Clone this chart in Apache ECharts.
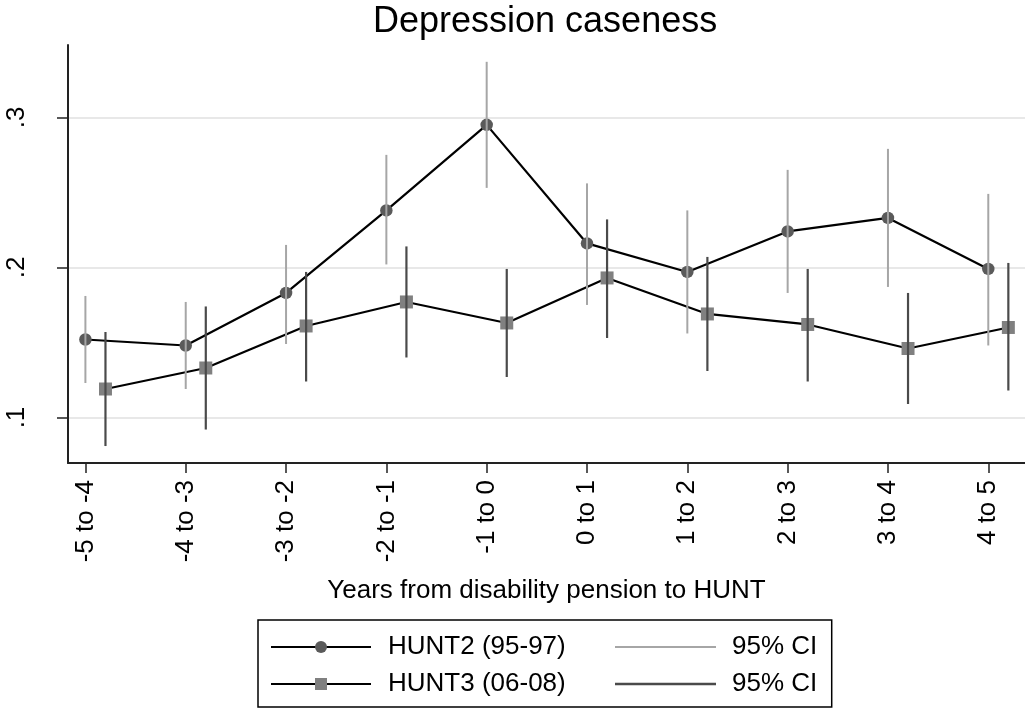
<!DOCTYPE html>
<html>
<head>
<meta charset="utf-8">
<script src="https://cdn.jsdelivr.net/npm/echarts@6/dist/echarts.min.js"></script>
<style>
html,body{margin:0;padding:0;background:#fff;}
#chart{width:1025px;height:709px;}
</style>
</head>
<body>
<div id="chart"></div>
<script>
const categories = ['-5 to -4','-4 to -3','-3 to -2','-2 to -1','-1 to 0','0 to 1','1 to 2','2 to 3','3 to 4','4 to 5'];
const hunt2   = [0.152,0.148,0.183,0.238,0.295,0.216,0.197,0.224,0.233,0.199];
const hunt2Lo = [0.123,0.119,0.149,0.202,0.253,0.175,0.156,0.183,0.187,0.148];
const hunt2Hi = [0.181,0.177,0.215,0.275,0.337,0.256,0.238,0.265,0.279,0.249];
const hunt3   = [0.119,0.133,0.161,0.177,0.163,0.193,0.169,0.162,0.146,0.160];
const hunt3Lo = [0.081,0.092,0.124,0.140,0.127,0.153,0.131,0.124,0.109,0.118];
const hunt3Hi = [0.157,0.174,0.197,0.214,0.199,0.232,0.207,0.199,0.183,0.203];
const yTicks = [0.1,0.2,0.3];
const yTickLabels = ['.1','.2','.3'];
const seriesNames = ['HUNT2 (95-97)','HUNT3 (06-08)'];
const ciLabel = '95% CI';
const titleText = 'Depression caseness';
const xTitle = 'Years from disability pension to HUNT';
const hunt3Offset = 0.2;

const FONT = '"Liberation Sans", Arial, Helvetica, sans-serif';
const xIdx = categories.map((c, i) => i);

function ciRender(width) {
  return function (params, api) {
    const x = api.value(0), lo = api.value(1), hi = api.value(2);
    const p1 = api.coord([x, lo]), p2 = api.coord([x, hi]);
    return {
      type: 'line',
      shape: { x1: p1[0], y1: p1[1], x2: p2[0], y2: p2[1] },
      style: { stroke: api.visual('color'), lineWidth: width }
    };
  };
}

const chart = echarts.init(document.getElementById('chart'), null, { renderer: 'canvas' });
chart.setOption({
  animation: false,
  backgroundColor: '#fff',
  title: {
    text: titleText, left: 373, top: 4, padding: 0,
    textStyle: { fontSize: 36, fontWeight: 'normal', color: '#000', fontFamily: FONT }
  },
  grid: { left: 68, right: 0, top: 45, bottom: 246, containLabel: false },
  xAxis: {
    type: 'value', min: -0.1735, max: 9.366,
    axisLine: { onZero: false, lineStyle: { color: '#222', width: 2 } },
    axisTick: { show: true, length: 10, customValues: xIdx, lineStyle: { color: '#222', width: 1.5 } },
    axisLabel: {
      customValues: xIdx, rotate: 90, margin: 17,
      formatter: v => categories[Math.round(v)],
      fontSize: 26, color: '#000', fontFamily: FONT
    },
    splitLine: { show: false },
    name: xTitle, nameLocation: 'middle', nameGap: 115,
    nameTextStyle: { fontSize: 26, color: '#000', fontFamily: FONT }
  },
  yAxis: {
    type: 'value', min: 0.0697, max: 0.3482,
    axisLine: { show: true, onZero: false, lineStyle: { color: '#222', width: 2 } },
    axisTick: { show: true, length: 11, customValues: yTicks, lineStyle: { color: '#222', width: 1.5 } },
    axisLabel: {
      customValues: yTicks, rotate: 90, margin: 38,
      formatter: v => { let k = 0; yTicks.forEach((t, i) => { if (Math.abs(t - v) < Math.abs(yTicks[k] - v)) k = i; }); return yTickLabels[k]; },
      fontSize: 26, color: '#000', fontFamily: FONT
    },
    splitLine: { show: true, lineStyle: { color: '#e8e8e8', width: 2 } }
  },
  legend: [
    {
      data: [{ name: seriesNames[0] }, { name: seriesNames[1] }],
      orient: 'vertical', left: 258, top: 620,
      padding: [14, 266, 10, 12],
      itemWidth: 100, itemHeight: 15, itemGap: 11,
      borderColor: '#000', borderWidth: 1.5, backgroundColor: '#fff',
      selectedMode: false,
      textStyle: { fontSize: 26, lineHeight: 26, color: '#000', fontFamily: FONT, padding: [0, 0, 0, 12] }
    },
    {
      data: [
        { name: 'CI2', icon: 'path://M0,0H100V2H0Z', itemStyle: { color: '#a6a6a6', borderWidth: 0 } },
        { name: 'CI3', icon: 'path://M0,0H100V2.5H0Z', itemStyle: { color: '#4a4a4a', borderWidth: 0 } }
      ],
      orient: 'vertical', left: 615, top: 634, padding: 0,
      itemWidth: 101, itemHeight: 15, itemGap: 11,
      selectedMode: false,
      formatter: () => ciLabel,
      textStyle: { fontSize: 26, lineHeight: 26, color: '#000', fontFamily: FONT, padding: [0, 0, 0, 11] }
    }
  ],
  series: [
    {
      name: seriesNames[0], type: 'line', z: 2,
      data: hunt2.map((v, i) => [i, v]),
      symbol: 'circle', symbolSize: 12.5,
      itemStyle: { color: '#5a5a5a' },
      lineStyle: { color: '#000', width: 2.2 }
    },
    {
      name: seriesNames[1], type: 'line', z: 2,
      data: hunt3.map((v, i) => [i + hunt3Offset, v]),
      symbol: 'rect', symbolSize: 13,
      itemStyle: { color: '#808080' },
      lineStyle: { color: '#000', width: 2.2 }
    },
    {
      name: 'CI2', type: 'custom', z: 3,
      itemStyle: { color: '#a6a6a6' },
      renderItem: ciRender(2),
      encode: { x: 0, y: [1, 2] },
      data: hunt2Lo.map((lo, i) => [i, lo, hunt2Hi[i]])
    },
    {
      name: 'CI3', type: 'custom', z: 3,
      itemStyle: { color: '#4a4a4a' },
      renderItem: ciRender(2.2),
      encode: { x: 0, y: [1, 2] },
      data: hunt3Lo.map((lo, i) => [i + hunt3Offset, lo, hunt3Hi[i]])
    }
  ]
});
</script>
</body>
</html>
